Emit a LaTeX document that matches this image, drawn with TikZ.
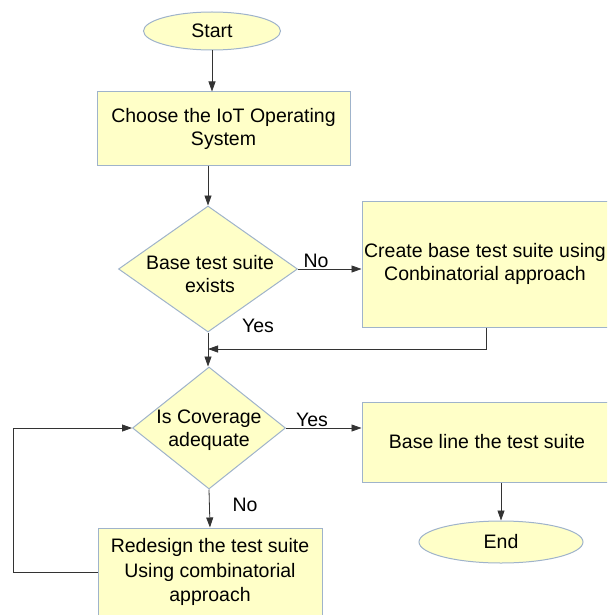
\documentclass[tikz,border=0pt]{standalone}
\usepackage{fontspec}
\setmainfont{Liberation Sans}
\usetikzlibrary{shapes.geometric,arrows.meta}
\definecolor{boxfill}{HTML}{FFFFC8}
\definecolor{boxline}{HTML}{9FB3CB}
\tikzset{
  every node/.style={font=\fontsize{19.5}{23}\selectfont},
  stepbox/.style={draw=boxline, fill=boxfill, line width=1pt, rectangle, inner sep=0pt},
  termin/.style={draw=boxline, fill=boxfill, line width=1pt, ellipse, inner sep=0pt},
  decide/.style={draw=boxline, fill=boxfill, line width=1pt, diamond, inner sep=0pt, aspect=1},
  txt/.style={align=center, inner sep=0pt},
  flow/.style={draw=black!80, line width=0.8pt, -{Triangle[length=10pt,width=7pt]}},
  plain/.style={draw=black!80, line width=0.8pt},
}
\begin{document}
\begin{tikzpicture}[x=1pt, y=-1pt]
\useasboundingbox (0,0) rectangle (607,615);
\clip (0,0) rectangle (607,615);

% terminals
\node[termin, minimum width=137, minimum height=38] (start) at (212,31) {};
\node[txt] at (start) {Start};
\node[termin, minimum width=164, minimum height=42] (end) at (501,542) {};
\node[txt] at (end) {End};

% process boxes
\node[stepbox, minimum width=253, minimum height=73] (b1) at (223.5,128.5) {};
\node[txt] at (b1) {Choose the IoT Operating\\System};
\node[stepbox, minimum width=253, minimum height=126] (b2) at (488.5,264) {};
\node[txt] at (485,264) {Create base test suite using\\Conbinatorial approach};
\node[stepbox, minimum width=253, minimum height=80] (b4) at (488.5,442) {};
\node[txt] at (487,442) {Base line the test suite};
\node[stepbox, minimum width=224, minimum height=88] (b3) at (210,572) {};
\node[txt, font=\fontsize{19.5}{24.5}\selectfont] at (210,572) {Redesign the test suite\\Using combinatorial\\approach};

% decisions
\node[decide, minimum width=179, minimum height=126] (d1) at (208,269) {};
\node[txt] at (210,274) {Base test suite\\exists};
\node[decide, minimum width=153, minimum height=122] (d2) at (209,428) {};
\node[txt] at (209,430) {Is Coverage\\adequate};

\coordinate (merge) at (208,349);
\coordinate (loopx) at (13,0);

% connectors
\draw[flow] (start.south) -- (start.south |- b1.north);
\draw[flow] (d1.north |- b1.south) -- (d1.north);
\draw[flow] (d1.east) -- (d1.east -| b2.west);
\draw[plain] (d1.south) -- (merge);
\draw[flow] (merge) -- (merge |- d2.north);
\draw[flow] ([xshift=-2.5]b2.south) |- (merge);
\draw[flow] (d2.east) -- (d2.east -| b4.west);
\draw[flow] (d2.south) -- (b3.north);
\draw[flow] (end.north |- b4.south) -- (end.north);
\draw[flow] (b3.west) -- (b3.west -| loopx) |- (d2.west);

% branch labels
\node[txt] at (316,261) {No};
\node[txt] at (258,326) {Yes};
\node[txt] at (312,420) {Yes};
\node[txt] at (245,505) {No};
\end{tikzpicture}
\end{document}
